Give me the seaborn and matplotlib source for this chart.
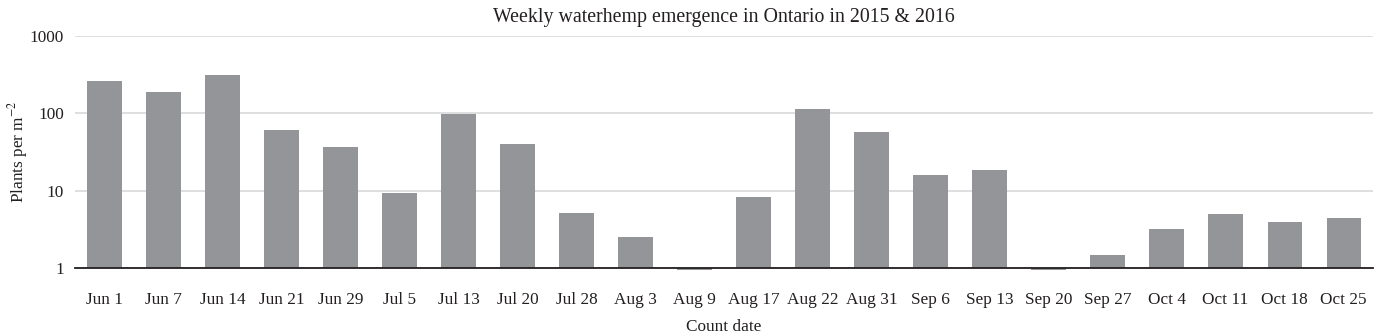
import seaborn as sns
import matplotlib.pyplot as plt
import pandas as pd

# weekly counts (log axis)
dates = ['Jun 1', 'Jun 7', 'Jun 14', 'Jun 21', 'Jun 29', 'Jul 5', 'Jul 13', 'Jul 20',
         'Jul 28', 'Aug 3', 'Aug 9', 'Aug 17', 'Aug 22', 'Aug 31', 'Sep 6', 'Sep 13',
         'Sep 20', 'Sep 27', 'Oct 4', 'Oct 11', 'Oct 18', 'Oct 25']
plants = [259, 187, 310, 62, 36.5, 9.3, 97, 40, 5.1, 2.5, 0.95, 8.3, 113, 57, 15.9, 18.4,
          0.95, 1.5, 3.2, 5.0, 4.0, 4.5]

BAR = '#939598'
GRID = '#d9d9d9'
TEXT = '#231f20'

sns.set_theme(style='white')
plt.rcParams['font.family'] = ['Liberation Serif', 'DejaVu Serif']
plt.rcParams['mathtext.fontset'] = 'stix'

df = pd.DataFrame({'date': dates, 'plants': plants})

fig, ax = plt.subplots(figsize=(13.87, 3.34), dpi=100)
fig.subplots_adjust(left=0.054, right=0.99, top=0.892, bottom=0.197)

sns.barplot(data=df, x='date', y='plants', ax=ax, color=BAR, saturation=1,
            width=0.58, zorder=3)

ax.set_yscale('log')
ax.set_ylim(1, 1000)
# Excel-style log bars: grow from 1, so values below 1 hang slightly down
for p, v in zip(ax.patches, plants):
    p.set_y(1)
    p.set_height(v - 1)
    p.set_clip_on(False)
    p.set_edgecolor('none')

ax.set_yticks([1, 10, 100, 1000])
ax.set_yticklabels(['1', '10', '100', '1000'])
ax.minorticks_off()
ax.yaxis.grid(True, color=GRID, lw=1.2, zorder=0)
ax.set_xlim(-0.5, len(dates) - 0.5)
for s in ['top', 'right', 'left']:
    ax.spines[s].set_visible(False)
ax.spines['bottom'].set_color(TEXT)
ax.spines['bottom'].set_linewidth(1.3)
ax.spines['bottom'].set_zorder(4)
ax.tick_params(axis='x', length=0, labelsize=12.4, colors=TEXT, pad=17)
ax.tick_params(axis='y', length=0, labelsize=12.4, colors=TEXT, pad=8)

ax.set_xlabel('Count date', fontsize=12.4, color=TEXT, labelpad=8)
ax.set_ylabel('Plants per m$^{-2}$', fontsize=12.4, color=TEXT,
              va='center', ha='center')
ax.yaxis.set_label_coords(-0.044, 0.5)
ax.set_title('Weekly waterhemp emergence in Ontario in 2015 & 2016',
             fontsize=14.3, color=TEXT, pad=10)

plt.savefig('out.png', dpi=100, facecolor='white')
